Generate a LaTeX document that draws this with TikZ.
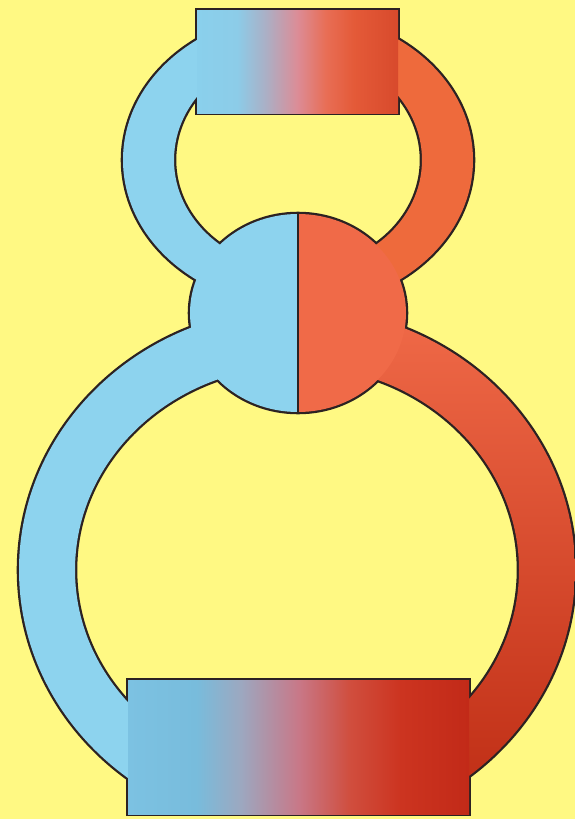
\documentclass[tikz,border=0pt]{standalone}
\usepackage{tikz}
\definecolor{bgyellow}{HTML}{FFF983}
\definecolor{veinblue}{HTML}{8DD3EE}
\definecolor{lungred}{HTML}{EE6A3C}
\definecolor{heartred}{HTML}{F06A48}
\definecolor{deepred}{HTML}{BC2A12}
\definecolor{rimgray}{HTML}{2C2222}
\definecolor{lgA}{HTML}{8AD0EC}
\definecolor{lgB}{HTML}{8CCCE8}
\definecolor{lgC}{HTML}{AAB0C6}
\definecolor{lgD}{HTML}{DC8C96}
\definecolor{lgE}{HTML}{E86E56}
\definecolor{lgF}{HTML}{E45A38}
\definecolor{lgG}{HTML}{D84A2C}
\definecolor{bgA}{HTML}{7CC2E2}
\definecolor{bgB}{HTML}{78BCDC}
\definecolor{bgC}{HTML}{9CA8C0}
\definecolor{bgD}{HTML}{C87888}
\definecolor{bgE}{HTML}{D04E3E}
\definecolor{bgF}{HTML}{CC3420}
\definecolor{bgG}{HTML}{C22A18}
\pgfdeclarehorizontalshading{lungshade}{100bp}{color(0bp)=(lgA); color(25bp)=(lgA); color(35bp)=(lgB); color(42bp)=(lgC); color(50bp)=(lgD); color(57bp)=(lgE); color(64bp)=(lgF); color(75bp)=(lgG); color(100bp)=(lgG)}
\pgfdeclarehorizontalshading{bodyshade}{100bp}{color(0bp)=(bgA); color(25bp)=(bgA); color(35bp)=(bgB); color(41.5bp)=(bgC); color(50bp)=(bgD); color(57.5bp)=(bgE); color(65bp)=(bgF); color(75bp)=(bgG); color(100bp)=(bgG)}

\begin{document}
\begin{tikzpicture}[
  x=0.05cm, y=-0.05cm,
  rim/.style={draw=rimgray, line width=6.5pt},
  ring/.style={even odd rule},
  septum/.style={draw=rimgray, line width=1.8pt}
]
\useasboundingbox (0,0) rectangle (575,819);
\fill[bgyellow] (0,0) rectangle (575,819);

\coordinate (lungc) at (298,160);
\coordinate (heartc) at (298,313);
\coordinate (bodyc) at (297,570);

\begin{scope}
  \clip (0,0) rectangle (575,814);
  \draw[rim] (bodyc) ellipse [x radius=278, y radius=262];
  \draw[rim] (bodyc) ellipse [x radius=222, y radius=204];
\end{scope}
\draw[rim] (lungc) ellipse [x radius=175, y radius=147];
\draw[rim] (lungc) ellipse [x radius=124, y radius=109];
\draw[rim] (heartc) ellipse [x radius=108, y radius=99];
\draw[rim] (197,10) rectangle (398,113);
\draw[rim] (128,680) rectangle (469,814);

\begin{scope}
  \clip (0,0) rectangle (298,814);
  \fill[veinblue, ring] (bodyc) ellipse [x radius=278, y radius=262] (bodyc) ellipse [x radius=222, y radius=204];
  \fill[veinblue, ring] (lungc) ellipse [x radius=175, y radius=147] (lungc) ellipse [x radius=124, y radius=109];
  \fill[veinblue] (heartc) ellipse [x radius=108, y radius=99];
\end{scope}
\begin{scope}
  \clip (298,0) rectangle (575,814);
  \shade[ring, top color=heartred, bottom color=deepred] (bodyc) ellipse [x radius=278, y radius=262] (bodyc) ellipse [x radius=222, y radius=204];
  \fill[lungred, ring] (lungc) ellipse [x radius=175, y radius=147] (lungc) ellipse [x radius=124, y radius=109];
  \fill[heartred] (heartc) ellipse [x radius=108, y radius=99];
\end{scope}

\shade[shading=lungshade] (197,10) rectangle (398,113);
\shade[shading=bodyshade] (128,680) rectangle (469,814);
\draw[septum] (heartc) ++(0,-99) -- ++(0,198);

\end{tikzpicture}
\end{document}
